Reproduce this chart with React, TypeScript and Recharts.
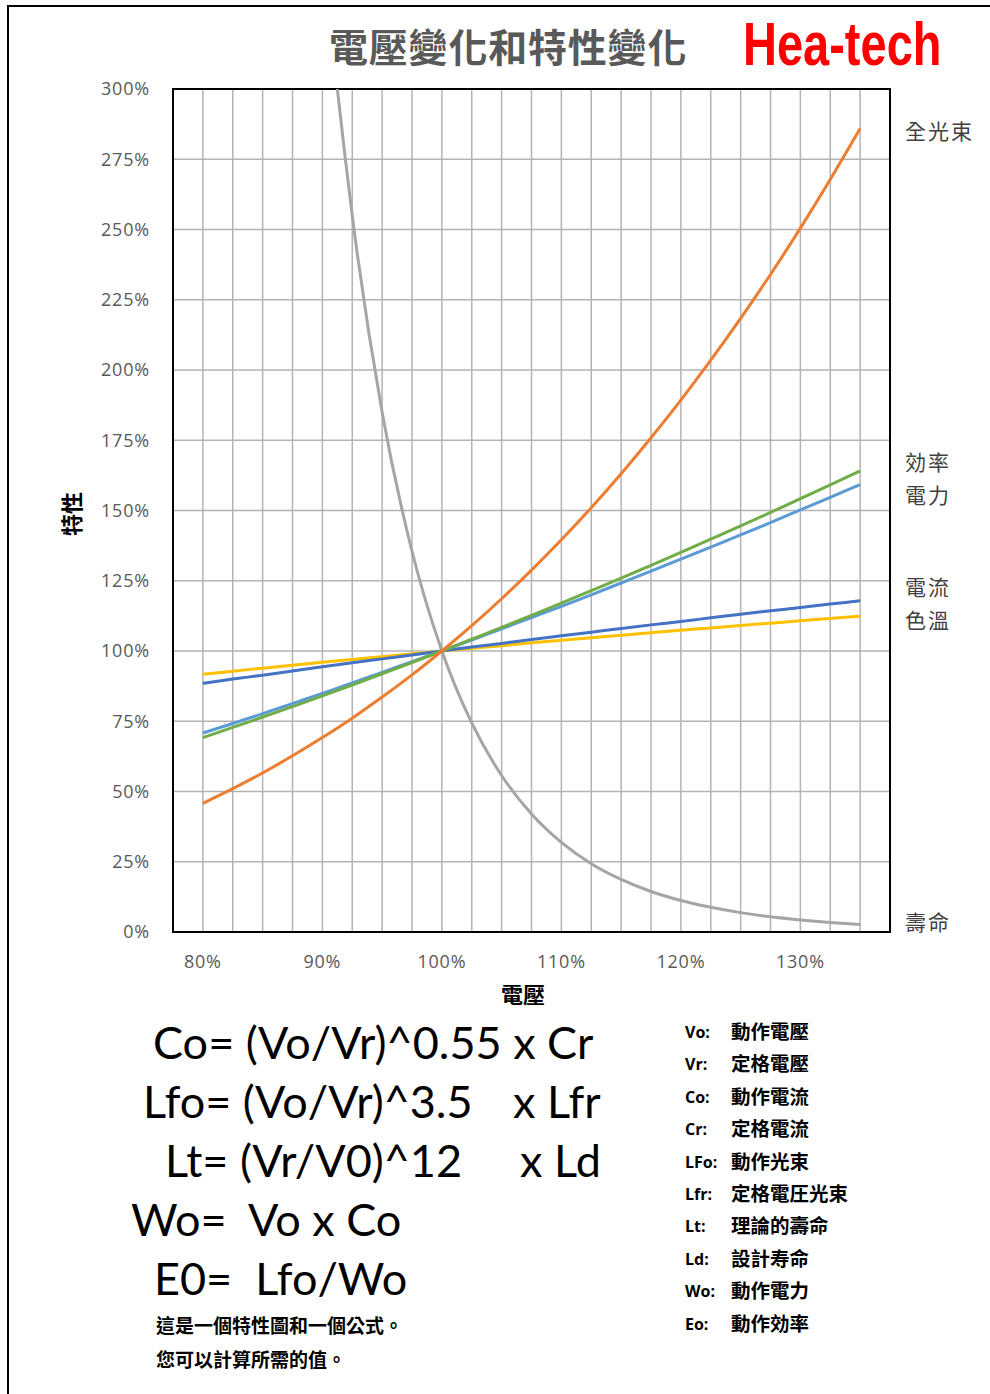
import React from 'react';
import {
  LineChart,
  Line,
  XAxis,
  YAxis,
  CartesianGrid,
  ReferenceArea,
} from 'recharts';

// voltage ratio (%) on the x axis
const voltage = [
  80, 82.5, 85, 87.5, 90, 92.5, 95, 97.5, 100, 102.5, 105, 107.5,
  110, 112.5, 115, 117.5, 120, 122.5, 125, 127.5, 130, 132.5, 135,
];

// 全光束 (orange)
const luminousFlux = [
  45.8, 51.0, 56.6, 62.7, 69.2, 76.1, 83.6, 91.5, 100, 109.0, 118.6, 128.8,
  139.6, 151.0, 163.1, 175.9, 189.3, 203.5, 218.4, 234.0, 250.5, 267.8, 285.9,
];

// 効率 (green)
const efficiency = [
  69.2, 72.8, 76.5, 80.2, 84.0, 87.9, 91.9, 95.9, 100, 104.2, 108.4, 112.7,
  117.0, 121.5, 125.9, 130.5, 135.1, 139.8, 144.5, 149.3, 154.2, 159.1, 164.1,
];

// 電力 (light blue)
const power = [
  70.8, 74.2, 77.7, 81.3, 84.9, 88.6, 92.4, 96.2, 100, 103.9, 107.9, 111.9,
  115.9, 120.0, 124.2, 128.4, 132.7, 137.0, 141.3, 145.7, 150.2, 154.7, 159.2,
];

// 電流 (dark blue)
const current = [
  88.5, 90.0, 91.4, 92.9, 94.4, 95.8, 97.2, 98.6, 100, 101.4, 102.7, 104.1,
  105.4, 106.7, 108.0, 109.3, 110.5, 111.8, 113.1, 114.3, 115.5, 116.7, 117.9,
];

// 色溫 (yellow)
const colorTemp = [
  91.7, 92.8, 93.9, 94.9, 96.0, 97.0, 98.0, 99.0, 100, 101.0, 101.9, 102.9,
  103.8, 104.7, 105.6, 106.5, 107.4, 108.2, 109.1, 109.9, 110.8, 111.6, 112.4,
];

// 壽命 (gray) – goes far above the chart on the left
const lifetime = [
  1455, 1006, 703, 497, 354, 255, 185, 135.5, 100, 74.4, 55.7, 42.0,
  31.9, 24.3, 18.7, 14.4, 11.2, 8.8, 6.9, 5.4, 4.3, 3.4, 2.7,
];

const xTicks = [
  77.5, 80, 82.5, 85, 87.5, 90, 92.5, 95, 97.5, 100, 102.5, 105, 107.5,
  110, 112.5, 115, 117.5, 120, 122.5, 125, 127.5, 130, 132.5, 135, 137.5,
];
const xLabelTicks = [80, 90, 100, 110, 120, 130];
const yTicks = [0, 25, 50, 75, 100, 125, 150, 175, 200, 225, 250, 275, 300];

const rightLabels = [
  { text: '全光束', top: 116 },
  { text: '効率', top: 447 },
  { text: '電力', top: 480 },
  { text: '電流', top: 572 },
  { text: '色溫', top: 605 },
  { text: '壽命', top: 907 },
];

const formulas = [
  { left: 153, top: 1014, main: 'Co= (Vo/Vr)^0.55 x Cr', tail: '', tailLeft: 0 },
  { left: 143, top: 1073, main: 'Lfo= (Vo/Vr)^3.5', tail: 'x Lfr', tailLeft: 513 },
  { left: 165, top: 1132, main: 'Lt= (Vr/V0)^12', tail: 'x Ld', tailLeft: 520 },
  { left: 131, top: 1191, main: 'Wo=  Vo x Co', tail: '', tailLeft: 0 },
  { left: 154, top: 1250, main: 'E0=  Lfo/Wo', tail: '', tailLeft: 0 },
];

const defKeys = ['Vo:', 'Vr:', 'Co:', 'Cr:', 'LFo:', 'Lfr:', 'Lt:', 'Ld:', 'Wo:', 'Eo:'];
const defValues = [
  '動作電壓', '定格電壓', '動作電流', '定格電流', '動作光束',
  '定格電圧光束', '理論的壽命', '設計寿命', '動作電力', '動作効率',
];

const notes = ['這是一個特性圖和一個公式。', '您可以計算所需的值。'];

const COLORS = {
  flux: '#ED7D31',
  efficiency: '#70AD47',
  power: '#5B9BD5',
  current: '#4472C4',
  colorTemp: '#FFC000',
  lifetime: '#A5A5A5',
};

const data = voltage.map((v, i) => ({
  v,
  flux: luminousFlux[i],
  efficiency: efficiency[i],
  power: power[i],
  current: current[i],
  colorTemp: colorTemp[i],
  lifetime: lifetime[i],
}));

const CJK = '"Noto Sans CJK TC", "Noto Sans CJK JP", sans-serif';
const tickFont = {
  fill: '#595959',
  fontSize: 18,
  fontFamily: '"Open Sans", sans-serif',
  letterSpacing: 0.8,
};
const formulaFont = 'Lato, "Open Sans", sans-serif';

export default function App() {
  return (
    <div
      style={{
        position: 'absolute',
        left: 0,
        top: 0,
        width: 990,
        height: 1394,
        overflow: 'hidden',
        background: '#fff',
        fontFamily: CJK,
      }}
    >
      <div
        style={{
          position: 'absolute',
          left: 7,
          top: 5,
          width: 983,
          height: 1389,
          boxSizing: 'border-box',
          borderTop: '2px solid #000',
          borderLeft: '2px solid #000',
        }}
      />

      <div
        style={{
          position: 'absolute',
          left: 329,
          top: 17,
          fontSize: 39,
          fontWeight: 700,
          color: '#595959',
          lineHeight: '56px',
          letterSpacing: 0.8,
          whiteSpace: 'nowrap',
        }}
      >
        電壓變化和特性變化
      </div>
      <div
        style={{
          position: 'absolute',
          left: 743,
          top: 8,
          fontSize: 47,
          fontWeight: 700,
          color: '#FF0000',
          fontFamily: '"Liberation Sans Narrow", "Liberation Sans", sans-serif',
          lineHeight: '56px',
          transform: 'scaleY(1.3)',
          transformOrigin: 'left top',
          whiteSpace: 'nowrap',
        }}
      >
        Hea-tech
      </div>

      <div style={{ position: 'absolute', left: 0, top: 0 }}>
        <LineChart
          width={990}
          height={1000}
          data={data}
          margin={{ top: 89, right: 100, bottom: 28, left: 113 }}
        >
          <CartesianGrid stroke="#b3b3b3" strokeWidth={1.5} />
          <XAxis
            dataKey="v"
            type="number"
            domain={[77.5, 137.5]}
            ticks={xTicks}
            interval={0}
            height={40}
            tickSize={0}
            tickMargin={23}
            axisLine={{ stroke: '#000', strokeWidth: 2 }}
            tick={tickFont}
            tickFormatter={(t: number) => (xLabelTicks.includes(t) ? `${t}%` : '')}
          />
          <YAxis
            type="number"
            domain={[0, 300]}
            ticks={yTicks}
            allowDataOverflow
            width={60}
            tickSize={0}
            tickMargin={23}
            axisLine={{ stroke: '#000', strokeWidth: 2 }}
            tick={tickFont}
            tickFormatter={(t: number) => `${t}%`}
          />
          <Line type="monotone" dataKey="lifetime" stroke={COLORS.lifetime} strokeWidth={3} dot={false} isAnimationActive={false} />
          <Line type="monotone" dataKey="colorTemp" stroke={COLORS.colorTemp} strokeWidth={3} dot={false} isAnimationActive={false} />
          <Line type="monotone" dataKey="current" stroke={COLORS.current} strokeWidth={3} dot={false} isAnimationActive={false} />
          <Line type="monotone" dataKey="power" stroke={COLORS.power} strokeWidth={3} dot={false} isAnimationActive={false} />
          <Line type="monotone" dataKey="efficiency" stroke={COLORS.efficiency} strokeWidth={3} dot={false} isAnimationActive={false} />
          <Line type="monotone" dataKey="flux" stroke={COLORS.flux} strokeWidth={3} dot={false} isAnimationActive={false} />
          <ReferenceArea x1={77.5} x2={137.5} y1={0} y2={300} fill="none" stroke="#000" strokeWidth={2} ifOverflow="visible" />
        </LineChart>
      </div>

      <div
        style={{
          position: 'absolute',
          left: 48,
          top: 498,
          width: 44,
          textAlign: 'center',
          fontSize: 22,
          fontWeight: 700,
          color: '#000',
          transform: 'rotate(-90deg)',
        }}
      >
        特性
      </div>
      <div
        style={{
          position: 'absolute',
          left: 501,
          top: 977,
          fontSize: 22,
          fontWeight: 700,
          color: '#000',
          lineHeight: '32px',
        }}
      >
        電壓
      </div>

      {rightLabels.map((l) => (
        <div
          key={l.text}
          style={{
            position: 'absolute',
            left: 905,
            top: l.top,
            fontSize: 21,
            color: '#404040',
            lineHeight: '28px',
            letterSpacing: 2,
          }}
        >
          {l.text}
        </div>
      ))}

      {formulas.map((f) => (
        <React.Fragment key={f.main}>
          <div
            style={{
              position: 'absolute',
              left: f.left,
              top: f.top,
              fontSize: 45,
              fontFamily: formulaFont,
              color: '#000',
              whiteSpace: 'pre',
              lineHeight: '56px',
            }}
          >
            {f.main}
          </div>
          {f.tail && (
            <div
              style={{
                position: 'absolute',
                left: f.tailLeft,
                top: f.top,
                fontSize: 45,
                fontFamily: formulaFont,
                color: '#000',
                whiteSpace: 'pre',
                lineHeight: '56px',
              }}
            >
              {f.tail}
            </div>
          )}
        </React.Fragment>
      ))}

      {defKeys.map((k, i) => (
        <React.Fragment key={k}>
          <div
            style={{
              position: 'absolute',
              left: 685,
              top: 1019 + i * 32.4,
              fontSize: 16,
              fontWeight: 700,
              fontFamily: '"Open Sans", sans-serif',
              lineHeight: '26px',
              color: '#000',
            }}
          >
            {k}
          </div>
          <div
            style={{
              position: 'absolute',
              left: 731,
              top: 1018 + i * 32.4,
              fontSize: 19.5,
              fontWeight: 700,
              lineHeight: '26px',
              color: '#000',
            }}
          >
            {defValues[i]}
          </div>
        </React.Fragment>
      ))}

      {notes.map((n, i) => (
        <div
          key={n}
          style={{
            position: 'absolute',
            left: 156,
            top: 1312 + i * 34,
            fontSize: 19,
            fontWeight: 700,
            lineHeight: '26px',
            color: '#000',
          }}
        >
          {n}
        </div>
      ))}
    </div>
  );
}
